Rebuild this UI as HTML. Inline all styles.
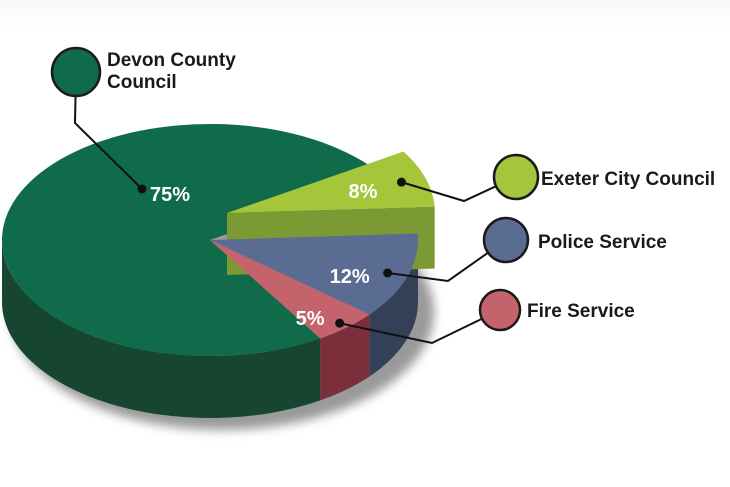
<!DOCTYPE html>
<html><head><meta charset="utf-8"><style>
body{margin:0;background:#fff;}
svg{display:block;font-family:"Liberation Sans",sans-serif;}
</style></head><body>
<svg id="chart" width="730" height="487" viewBox="0 0 730 487">
<defs>
<linearGradient id="bg" x1="0" y1="0" x2="0" y2="1"><stop offset="0" stop-color="#f7f7f7"/><stop offset="0.06" stop-color="#fff"/></linearGradient>
<filter id="blur"><feGaussianBlur stdDeviation="5"/></filter>
</defs>
<rect width="730" height="487" fill="url(#bg)"/>
<ellipse cx="222" cy="312" rx="212" ry="118" fill="#9a9a9a" filter="url(#blur)"/>
<g id="pie"></g>
<g id="labels"></g>
</svg>
<script>
const categories = ["Exeter City Council","Police Service","Fire Service","Devon County Council"];
const values = [8,12,5,75];
const valueLabels = ["8%","12%","5%","75%"];
const exploded = [true,false,false,false];
const topColors = ["#a5c63b","#5b6c93","#c4636b","#0f6b4a"];
const sideColors = ["#7b9a33","#343f58","#7a2f3b","#164532"];
const NS="http://www.w3.org/2000/svg";
const cx=210, cy=240, rx=208, ry=116, depth=62, startAngle=-32, ex=[17,-27];
const total=values.reduce((a,b)=>a+b,0);
function P(a,ox,oy,d){const r=a*Math.PI/180;return [cx+ox+rx*Math.cos(r), cy+oy+ry*Math.sin(r)+(d||0)];}
function mk(tag,attrs,parent){const e=document.createElementNS(NS,tag);for(const k in attrs)e.setAttribute(k,attrs[k]);parent.appendChild(e);return e;}
const pie=document.getElementById('pie');
const slices=[];let acc=startAngle;
values.forEach((v,i)=>{const a1=acc,a2=acc+v/total*360;acc=a2;slices.push({i,a1,a2,o:exploded[i]?ex:[0,0]});});
function drawWall(s,g){
  const [ox,oy]=s.o;
  for(const shift of [0,360,-360]){
    const s1=Math.max(s.a1+shift,0), s2=Math.min(s.a2+shift,180);
    if(s2>s1){
      const p1=P(s1,ox,oy),p2=P(s2,ox,oy),q2=P(s2,ox,oy,depth),q1=P(s1,ox,oy,depth);
      const w=mk('path',{d:`M${p1}A${rx} ${ry} 0 0 1 ${p2}L${q2}A${rx} ${ry} 0 0 0 ${q1}Z`,fill:sideColors[s.i]},g);
      
      
    }
  }
}
function drawFace(s,g){
  const [ox,oy]=s.o;
  const endN=Math.sin((s.a2+90)*Math.PI/180)>0;
  if(!endN)return;
  const a=s.a2;
  const c=[cx+ox,cy+oy],cd=[cx+ox,cy+oy+depth],p=P(a,ox,oy),q=P(a,ox,oy,depth);
  const f=mk('path',{d:`M${c}L${p}L${q}L${cd}Z`,fill:sideColors[s.i]},g);
  
  
}
function drawTop(s,g){
  const [ox,oy]=s.o;const p1=P(s.a1,ox,oy),p2=P(s.a2,ox,oy);
  const large=(s.a2-s.a1)>180?1:0;
  const t=mk('path',{d:`M${cx+ox},${cy+oy}L${p1}A${rx} ${ry} 0 ${large} 1 ${p2}Z`,fill:topColors[s.i]},g);
  
  
}
const main=slices.filter(s=>!exploded[s.i]);
const exs=slices.filter(s=>exploded[s.i]);
main.forEach(s=>drawWall(s,pie));
const big=main.reduce((a,b)=>values[b.i]>values[a.i]?b:a);
drawTop(big,pie);
exs.forEach(s=>{drawWall(s,pie);drawFace(s,pie);drawTop(s,pie);});
main.filter(s=>s!==big).forEach(s=>drawTop(s,pie));
const L=document.getElementById('labels');
const frac=[0.88,0.9,0.95,0.55];
const txtOff=[[-53,16],[-58,10],[-44,2],[8,12]];
slices.forEach(s=>{
  const mid=(s.a1+s.a2)/2;const [ox,oy]=s.o;
  const f=frac[s.i];
  const r=mid*Math.PI/180;
  let px=cx+ox+rx*f*Math.cos(r), py=cy+oy+ry*f*Math.sin(r);
  if(s.i===3){px=142;py=189;}
  const t=mk('text',{x:px+txtOff[s.i][0],y:py+txtOff[s.i][1],fill:'#fff','font-size':20,'font-weight':'bold'},L);
  t.textContent=valueLabels[s.i];
  
  
  s.dot=[px,py];
});
const callouts=[
 {i:0,c:[516,177],r:22,tx:541,ty:185,lines:["Exeter City Council"],knee:[464,201]},
 {i:1,c:[506,240],r:22,tx:538,ty:248,lines:["Police Service"],knee:[448,281]},
 {i:2,c:[500,310],r:20,tx:527,ty:317,lines:["Fire Service"],knee:[432,343]},
 {i:3,c:[76,72],r:24,tx:107,ty:66,lines:["Devon County","Council"],knee:[75,123]}
];
callouts.forEach(co=>{
  const d=slices[co.i].dot;
  const a=Math.atan2(co.knee[1]-co.c[1],co.knee[0]-co.c[0]);
  const e=[co.c[0]+co.r*Math.cos(a),co.c[1]+co.r*Math.sin(a)];
  const ln=mk('polyline',{points:`${e} ${co.knee} ${d}`,fill:'none',stroke:'#111','stroke-width':2},L);
  
  
  const dot=mk('circle',{cx:d[0],cy:d[1],r:4.5,fill:'#111'},L);
  
  
  const c=mk('circle',{cx:co.c[0],cy:co.c[1],r:co.r,fill:topColors[co.i],stroke:'#1a1a1a','stroke-width':2.5},L);
  
  
  co.lines.forEach((s,k)=>{
    const t=mk('text',{x:co.tx,y:co.ty+k*22,fill:'#1a1a1a','font-size':19,'font-weight':'bold'},L);
    t.textContent=k===0&&co.lines.length===1?categories[co.i]:s;
    
    
  });
});
</script>
</body></html>
